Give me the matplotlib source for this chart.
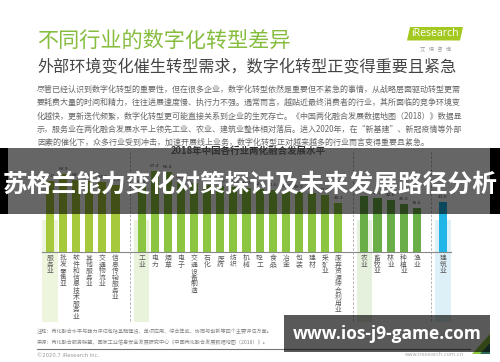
import matplotlib
matplotlib.use('Agg')
import matplotlib.pyplot as plt
from matplotlib.patches import Rectangle, Polygon

plt.rcParams['font.family'] = ['Noto Sans CJK SC', 'DejaVu Sans']

# 数据
groups = ['服务业', '工业', '农业', '建筑业']
service_cats = ['服务业', '批发零售业', '软件和信息技术服务业', '其他服务业', '交通物流业', '信息传输服务业']
service_vals = [59.0, 64.9, 59.3, 58.4, 57.7, 55.6]
industry_cats = ['工业', '电力', '烟草', '电子', '交通设备制造', '石化', '医药', '纺织', '机械',
                 '轻工', '食品', '冶金', '包装', '建材', '采矿业', '废弃资源综合利用业']
industry_vals = [54.0, 67.4, 66.4, 58.2, 56.8, 55.6, 54.9, 54.0, 53.2, 52.5, 51.6, 50.8, 49.9, 48.7, 47.2, 40.3]
agri_cats = ['农业', '畜牧业', '林业', '种植业', '渔业']
agri_vals = [46.6, 45.0, 42.6, 40.0, 36.6]
build_cats = ['建筑业']
build_vals = [41.0]

group_cats = [service_cats, industry_cats, agri_cats, build_cats]
group_vals = [service_vals, industry_vals, agri_vals, build_vals]
bar_colors = ['#a6c93c', '#8cc540', '#6aae47', '#1fb5e6']
bg_colors = ['#eef5dd', '#e9f3dc', '#e6f1dd', '#ddf0f8']

paragraph = [
    '尽管已经认识到数字化转型的重要性，但在很多企业，数字化转型依然是重要但不紧急的事情，从战略层面驱动转型更需',
    '要耗费大量的时间和精力，往往进展速度慢、执行力不强。通常而言，越贴近最终消费者的行业，其所面临的竞争环境变',
    '化越快，更新迭代频繁，数字化转型更可能直接关系到企业的生死存亡。《中国两化融合发展数据地图（2018）》数据显',
    '示，服务业在两化融合发展水平上领先工业、农业、建筑业整体相对落后。进入2020年，在“新基建”、新冠疫情等外部',
    '因素的催化下，众多行业受到冲击，加速开展线上业务，数字化转型正对越来越多的行业而言变得重要且紧急。',
]

fig = plt.figure(figsize=(5, 3.62), dpi=100)
fig.patch.set_facecolor('white')

# 背景层（像素坐标）
bg = fig.add_axes([0, 0, 1, 1])
bg.set_xlim(0, 500)
bg.set_ylim(362, 0)
bg.axis('off')

bg.text(37, 41, '不同行业的数字化转型差异', fontsize=15.2, color='#86bd3e', va='center')
bg.text(37, 68, '外部环境变化催生转型需求，数字化转型正变得重要且紧急', fontsize=11.6, color='#444444', va='center')
for k, line in enumerate(paragraph):
    bg.text(37, 89.5 + k * 13.3, line, fontsize=5.75, color='#666666', va='center')

# 艾瑞 logo
bg.add_patch(Polygon([(407, 40.5), (410, 27), (463, 27), (460, 40.5)], closed=True,
                     facecolor='#a3c81f', edgecolor='none'))
bg.text(435, 34, 'iResearch', fontsize=7.6, color='white', ha='center', va='center', family=['Open Sans'])
bg.text(436, 49, '艾   瑞   咨   询', fontsize=3.8, color='#999999', ha='center', va='center')

# 注释 / 来源
bg.text(37, 331, '注释：两化融合水平与能力评估包括基础建设、单项应用、综合集成、协同与创新等四个主要评估方面。',
        fontsize=3.7, color='#888888', va='center')
bg.text(37, 342, '来源：两化融合服务联盟，国家工业信息安全发展研究中心《中国两化融合发展数据地图（2018）》。',
        fontsize=3.7, color='#888888', va='center')
bg.plot([37, 470], [348.5, 348.5], color='#777777', lw=0.8)
bg.text(37, 355.5, '©2020.7 iResearch Inc.', fontsize=3.8, color='#999999', va='center', family=['DejaVu Sans'])
bg.text(405, 354, 'www.iresearch.com.cn', fontsize=3.8, color='#aaaaaa', va='center', family=['DejaVu Sans'])
bg.add_patch(Polygon([(472, 354), (490, 334), (490, 354)], closed=True, facecolor='#8cc540', edgecolor='none'))
bg.add_patch(Polygon([(480, 354), (490, 343), (490, 354)], closed=True, facecolor='#2d6a55', edgecolor='none'))

# 图表层
ax = fig.add_axes([37 / 500, (362 - 322) / 362, 426 / 500, (322 - 148) / 362])
ax.set_xlim(-0.992, 31.53)
ax.set_ylim(-58.75, 86.25)
ax.axis('off')

pos = 0
for gi, (cats, vals) in enumerate(zip(group_cats, group_vals)):
    xs = list(range(pos, pos + len(cats)))
    # 汇总列的浅色背景
    ax.add_patch(Rectangle((xs[0] - 0.58, -58.75), 1.16, 85, facecolor=bg_colors[gi], edgecolor='none', zorder=0))
    ax.bar(xs, vals, width=0.62, color=bar_colors[gi], zorder=2)
    for x, v, c in zip(xs, vals, cats):
        ax.text(x, v + 2.5, f'{v:.1f}', fontsize=3.2, color='#555555', ha='center', va='bottom', zorder=3,
                family=['DejaVu Sans'])
        for k, ch in enumerate(c):
            ax.text(x, -5.5 - k * 5.45, ch, fontsize=4.9, color='#5a5a5a', ha='center', va='center', zorder=3)
    pos += len(cats)
    if gi < len(group_cats) - 1:
        ax.plot([pos + 0.1, pos + 0.1], [-58, 84], color='#aaaaaa', lw=0.6, ls=(0, (3, 2)), zorder=1)
        pos += 1

ax.plot([-0.6, pos - 0.4], [0, 0], color='#888888', lw=0.8, zorder=3)

# 覆盖层
top = fig.add_axes([0, 0, 1, 1])
top.set_xlim(0, 500)
top.set_ylim(362, 0)
top.axis('off')
top.patch.set_visible(False)

top.text(248, 151, '2018年中国各行业两化融合发展水平', fontsize=6.8, fontweight='bold', color='#333333',
         ha='center', va='center')
top.add_patch(Rectangle((8, 148), 482, 66, facecolor='black', alpha=0.6, edgecolor='none'))
top.add_patch(Rectangle((0, 148), 8, 66, facecolor='black', edgecolor='none'))
top.add_patch(Rectangle((490, 148), 10, 66, facecolor='black', edgecolor='none'))
top.text(250, 185, '苏格兰能力变化对策探讨及未来发展路径分析', fontsize=17.8, fontweight='bold', color='white',
         ha='center', va='center')

top.add_patch(Rectangle((284, 315), 206, 37, facecolor='black', alpha=0.65, edgecolor='none'))
top.text(387, 334, 'www.ios-j9-game.com', fontsize=12.5, fontweight='bold', color='white',
         ha='center', va='center', family=['Open Sans', 'DejaVu Sans'])

fig.savefig('out.png', dpi=100)
